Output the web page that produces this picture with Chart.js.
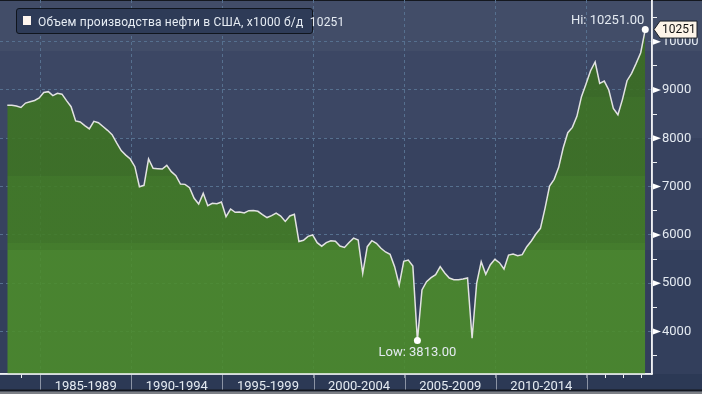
<!DOCTYPE html>
<html>
<head>
<meta charset="utf-8">
<script src="https://cdn.jsdelivr.net/npm/chart.js@4.4.1/dist/chart.umd.min.js"></script>
<style>
  html, body { margin: 0; padding: 0; background: #2d3a56; }
  #wrap { position: relative; width: 702px; height: 394px; }
  #chart { display: block; }
  #legend {
    position: absolute; left: 16px; top: 8px; width: 297px; height: 26px;
    box-sizing: border-box; border: 1px solid #10151d; border-radius: 3px;
    background: #2e3b57; font: 12px Roboto, sans-serif; color: #e6ecf3;
  }
  #legend .mark { position: absolute; left: 6px; top: 7px; width: 8px; height: 9px; background: #fff6ef; }
  #legend .txt { position: absolute; left: 21px; top: 0; line-height: 26px; white-space: pre; letter-spacing: 0.2px; }
</style>
</head>
<body>
<div id="wrap">
  <canvas id="chart" width="702" height="394"></canvas>
  <div id="legend"><span class="mark"></span><span class="txt" id="legend-text"></span></div>
</div>
<script>
// ------- Data -------
const seriesName = 'Объем производства нефти в США, x1000 б/д';
const firstYear = 1983;

// quarterly values, one row per year (1983 .. 2018 Q1)
const production = [
  8682, 8682, 8669, 8638,
  8729, 8756, 8782, 8836,
  8947, 8965, 8884, 8930,
  8913, 8780, 8654, 8359,
  8337, 8263, 8193, 8352,
  8323, 8244, 8165, 8076,
  7905, 7745, 7652, 7571,
  7412, 6998, 7026, 7571,
  7378, 7371, 7364, 7440,
  7309, 7226, 7053, 7046,
  6977, 6757, 6639, 6860,
  6605, 6653, 6646, 6681,
  6377, 6536, 6467, 6474,
  6456, 6501, 6505, 6489,
  6420, 6359, 6398, 6452,
  6389, 6280, 6391, 6425,
  5862, 5887, 5970, 5999,
  5839, 5766, 5839, 5879,
  5869, 5770, 5739, 5841,
  5933, 5894, 5204, 5756,
  5880, 5825, 5723, 5646,
  5597, 5342, 4962, 5452,
  5480, 5356, 3813, 4859,
  5032, 5114, 5176, 5342,
  5211, 5107, 5073, 5073,
  5087, 5107, 3860, 4997,
  5446, 5183, 5383, 5494,
  5425, 5294, 5583, 5604,
  5570, 5590, 5756, 5873,
  6018, 6136, 6550, 7012,
  7150, 7398, 7805, 8116,
  8226, 8454, 8861, 9123,
  9399, 9579, 9137, 9185,
  9000, 8620, 8488, 8806,
  9192, 9344, 9551, 9772,
  10251
];

const periodStarts = [1985, 1990, 1995, 2000, 2005, 2010];
const periodLabels = ['1985-1989', '1990-1994', '1995-1999', '2000-2004', '2005-2009', '2010-2014'];
const gridYears = [1985, 1990, 1995, 2000, 2005, 2010, 2015];
const yearTicks = [1984, 1985, 1986, 1987, 1988, 1989, 1990, 1991, 1992, 1993, 1994, 1995, 1996,
  1997, 1998, 1999, 2000, 2001, 2002, 2003, 2004, 2005, 2006, 2007, 2008, 2009, 2010, 2011,
  2012, 2013, 2014, 2015, 2016, 2017, 2018];
const yTickValues = [3500, 4000, 4500, 5000, 5500, 6000, 6500, 7000, 7500, 8000, 8500, 9000, 9500, 10000, 10500];

// ------- Style -------
const X_MIN = 1982.8, X_MAX = 2018.57;
const Y_MIN = 3120, Y_MAX = 10863;
const GRID = '#56708f';
const AXIS = '#eef0f3';
const TEXT = '#e4eaf1';
const SEP = '#8b93a4';
const FONT = { family: 'Roboto', size: 13 };

const bgBands = [[0, '#424d68'], [51, '#3c4764'], [138, '#37425f'], [250, '#333f5c']];
const fillBands = [
  [0, 'rgba(59,111,33,0.88)'], [97, 'rgba(62,117,34,0.88)'], [176, 'rgba(66,125,36,0.88)'],
  [243, 'rgba(70,132,38,0.88)'], [250, 'rgba(76,141,42,0.88)']
];

// ------- Helpers -------
const quarterLabels = production.map((_, i) => `${firstYear + Math.floor(i / 4)} Q${i % 4 + 1}`);

function quarterX(label) {
  const [year, q] = label.split(' Q').map(Number);
  return year + (q - 1) / 4 + 0.2;
}

const points = production.map((v, i) => ({ x: quarterX(quarterLabels[i]), y: v }));
const hiIndex = production.indexOf(Math.max(...production));
const loIndex = production.indexOf(Math.min(...production));
const lastValue = production[production.length - 1];

document.getElementById('legend-text').textContent = seriesName + '  ' + lastValue;

function bandGradient(ctx, bands, top, bottom) {
  const g = ctx.createLinearGradient(0, top, 0, bottom);
  const h = bottom - top;
  bands.forEach(([start, color], i) => {
    const end = i + 1 < bands.length ? bands[i + 1][0] : h;
    g.addColorStop(Math.max(0, Math.min(1, start / h)), color);
    g.addColorStop(Math.max(0, Math.min(1, (end - 0.01) / h)), color);
  });
  return g;
}

function noPadding(s) {
  s.paddingLeft = 0;
  s.paddingRight = 0;
  s.paddingTop = 0;
  s.paddingBottom = 0;
}

// ------- Plugins -------
const backdropPlugin = {
  id: 'backdrop',
  beforeDraw(chart) {
    const { ctx, chartArea: a, width, height } = chart;
    ctx.save();
    ctx.fillStyle = bandGradient(ctx, bgBands, 0, a.bottom);
    ctx.fillRect(0, 0, width, a.bottom);
    ctx.fillStyle = '#2c3955';
    ctx.fillRect(0, a.bottom, width, height - a.bottom);
    ctx.fillStyle = '#14181f';
    ctx.fillRect(0, 0, width, 1);
    ctx.fillRect(0, 389.5, width, 2);
    ctx.fillStyle = '#7d8086';
    ctx.fillRect(0, 391.5, width, height - 391.5);
    ctx.restore();
  }
};

const overlayPlugin = {
  id: 'overlay',
  afterDatasetsDraw(chart) {
    const { ctx } = chart;
    const meta = chart.getDatasetMeta(0);
    const hi = meta.data[hiIndex], lo = meta.data[loIndex];
    ctx.save();
    ctx.font = '13px Roboto';
    ctx.fillStyle = TEXT;
    ctx.textAlign = 'right';
    ctx.textBaseline = 'middle';
    ctx.fillText('Hi: ' + production[hiIndex].toFixed(2), hi.x - 1, hi.y - 9);
    ctx.textAlign = 'center';
    ctx.fillText('Low: ' + production[loIndex].toFixed(2), lo.x, lo.y + 12);
    ctx.restore();
  },
  afterDraw(chart) {
    const { ctx, chartArea: a, scales: { x, y } } = chart;
    ctx.save();
    // axis lines on top of the fill
    ctx.strokeStyle = AXIS;
    ctx.lineWidth = 1.5;
    ctx.beginPath();
    ctx.moveTo(0, a.bottom);
    ctx.lineTo(a.right, a.bottom);
    ctx.moveTo(a.right, 0);
    ctx.lineTo(a.right, a.bottom);
    ctx.stroke();
    // period separators below the axis
    ctx.strokeStyle = SEP;
    ctx.lineWidth = 1;
    gridYears.forEach(yr => {
      const px = Math.round(x.getPixelForValue(yr)) + 0.5;
      ctx.beginPath();
      ctx.moveTo(px, a.bottom + 1);
      ctx.lineTo(px, 389.5);
      ctx.stroke();
    });
    // triangle markers on major y ticks
    ctx.fillStyle = '#ffffff';
    yTickValues.filter(v => v % 1000 === 0).forEach(v => {
      const py = y.getPixelForValue(v);
      ctx.beginPath();
      ctx.moveTo(a.right + 1, py - 3);
      ctx.lineTo(a.right + 9, py);
      ctx.lineTo(a.right + 1, py + 3);
      ctx.closePath();
      ctx.fill();
    });
    // last value tag
    const ty = y.getPixelForValue(lastValue);
    ctx.beginPath();
    ctx.moveTo(a.right + 2, ty);
    ctx.lineTo(a.right + 8, ty - 8.5);
    ctx.lineTo(a.right + 45, ty - 8.5);
    ctx.lineTo(a.right + 45, ty + 8.5);
    ctx.lineTo(a.right + 8, ty + 8.5);
    ctx.closePath();
    ctx.fillStyle = '#fdf4e8';
    ctx.fill();
    ctx.strokeStyle = '#1b1f26';
    ctx.lineWidth = 1;
    ctx.stroke();
    ctx.fillStyle = '#111111';
    ctx.font = '12px Roboto';
    ctx.textAlign = 'left';
    ctx.textBaseline = 'middle';
    ctx.fillText(String(lastValue), a.right + 10, ty + 0.5);
    ctx.restore();
  }
};

// ------- Chart -------
const chart = new Chart(document.getElementById('chart'), {
  type: 'line',
  data: {
    labels: quarterLabels,
    datasets: [{
      label: seriesName,
      data: points,
      borderColor: '#e2e2e2',
      borderWidth: 1.5,
      tension: 0,
      fill: 'start',
      backgroundColor: ctx => {
        const a = ctx.chart.chartArea;
        if (!a) return 'transparent';
        return bandGradient(ctx.chart.ctx, fillBands, a.top, a.bottom);
      },
      pointRadius: ctx => (ctx.dataIndex === hiIndex || ctx.dataIndex === loIndex) ? 3.5 : 0,
      pointBackgroundColor: '#ffffff',
      pointBorderWidth: 0,
      pointHoverRadius: 0
    }]
  },
  options: {
    responsive: false,
    animation: false,
    devicePixelRatio: 1,
    layout: { padding: 0, autoPadding: false },
    plugins: { legend: { display: false }, tooltip: { enabled: false } },
    scales: {
      x: {
        type: 'linear',
        min: X_MIN,
        max: X_MAX,
        afterBuildTicks: s => {
          const mids = periodStarts.map(p => p + 2.5);
          s.ticks = yearTicks.concat(mids).sort((a, b) => a - b).map(v => ({ value: v }));
        },
        afterFit: s => { s.height = 20; noPadding(s); },
        grid: {
          color: ctx => gridYears.includes(ctx.tick.value) ? GRID : 'transparent',
          tickLength: 4,
          tickColor: ctx => {
            const v = ctx.tick.value;
            if (gridYears.includes(v)) return SEP;
            if (Number.isInteger(v) && (v < 1985 || v > 2014)) return AXIS;
            return 'transparent';
          }
        },
        border: { color: AXIS, width: 1.5, dash: [3, 3] },
        ticks: {
          autoSkip: false,
          maxRotation: 0,
          minRotation: 0,
          padding: 1,
          color: TEXT,
          font: FONT,
          callback: v => {
            const k = periodStarts.indexOf(v - 2.5);
            return k >= 0 ? periodLabels[k] : '';
          }
        }
      },
      y: {
        position: 'right',
        min: Y_MIN,
        max: Y_MAX,
        afterBuildTicks: s => { s.ticks = yTickValues.map(v => ({ value: v })); },
        afterFit: s => { s.width = 50; noPadding(s); },
        grid: {
          color: ctx => ctx.tick.value % 1000 === 0 ? GRID : 'transparent',
          tickLength: 5,
          tickColor: ctx => ctx.tick.value % 1000 === 0 ? 'transparent' : AXIS
        },
        border: { color: AXIS, width: 1.5, dash: [3, 3] },
        ticks: {
          padding: 5,
          color: TEXT,
          font: FONT,
          callback: v => v % 1000 === 0 ? String(v) : ''
        }
      }
    }
  },
  plugins: [backdropPlugin, overlayPlugin]
});
</script>
</body>
</html>
